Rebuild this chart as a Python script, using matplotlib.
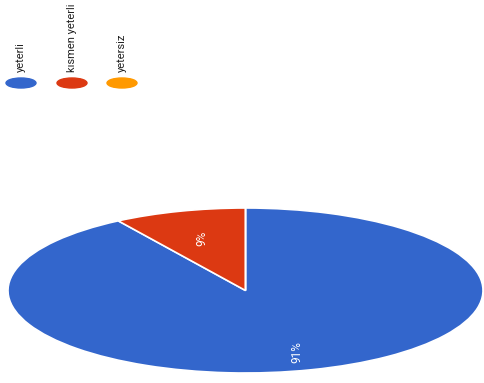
import matplotlib.pyplot as plt
from matplotlib.patches import Ellipse

# ---------------- DATA ---------------- #
labels = ["yeterli", "kısmen yeterli", "yetersiz"]
values = [91, 9, 0]
colors = ["#3366cc", "#dc3912", "#ff9900"]

# legend positions in pixels (figure is rotated, so legend sits on top)
legend_x = [21, 72, 122]
legend_y = 83

fig = plt.figure(figsize=(4.85, 3.83), dpi=100)

# ---------------- PIE (stretched ellipse) ---------------- #
ax = fig.add_axes([8 / 485, (383 - 373) / 383, 475 / 485, 165 / 383])
wedges, texts, autotexts = ax.pie(
    values,
    colors=colors,
    startangle=90,
    counterclock=False,
    autopct=lambda p: f"{p:.0f}%" if p > 0 else "",
    pctdistance=0.78,
    wedgeprops=dict(edgecolor="white", linewidth=1.2),
    textprops=dict(color="white", fontsize=8.5, rotation=90, family="Roboto"),
)
# small slice label sits a bit closer to the centre
px, py = autotexts[1].get_position()
autotexts[1].set_position((px * 0.85, py * 0.85))
ax.set_aspect("auto")
ax.set_xlim(-1, 1)
ax.set_ylim(-1, 1)
ax.axis("off")

# ---------------- LEGEND ---------------- #
lax = fig.add_axes([0, 0, 1, 1])
lax.set_xlim(0, 485)
lax.set_ylim(383, 0)
lax.axis("off")
for x, lab, c in zip(legend_x, labels, colors):
    lax.add_patch(Ellipse((x, legend_y), 30, 10, color=c))
    lax.text(x, legend_y - 11, lab, rotation=90, ha="center", va="bottom",
             fontsize=8, color="#222222", family="Roboto")

fig.savefig("out.png", dpi=100)
